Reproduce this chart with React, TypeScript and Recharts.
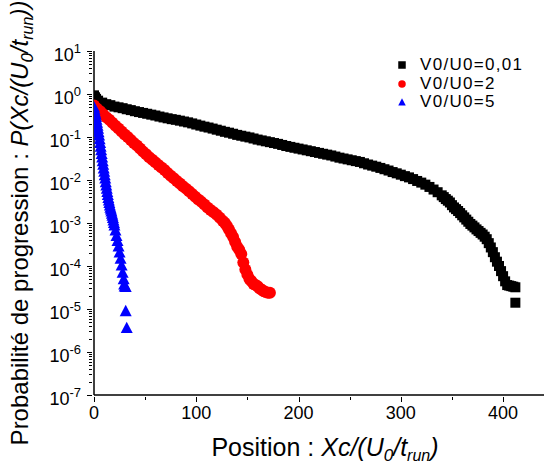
import { ScatterChart, Scatter, XAxis, YAxis, Legend } from "recharts";

const FONT = "'Liberation Sans', Arial, sans-serif";

// x ticks: every 50, labels every 100
const X_TICKS = [0, 50, 100, 150, 200, 250, 300, 350, 400];
const X_LABELED = [0, 100, 200, 300, 400];

// log y axis: decades + minor factors
const Y_DECADES = [1e-7, 1e-6, 1e-5, 1e-4, 1e-3, 1e-2, 1e-1, 1e0, 1e1];
const Y_EXPONENTS = ["-7", "-6", "-5", "-4", "-3", "-2", "-1", "0", "1"];
const Y_MINOR_FACTORS = [2, 3, 4, 5, 6, 7, 8, 9];

// [position, probability]
const V0_001: [number, number][] = [
  [0, 0.93], [1, 0.84], [2, 0.77], [4, 0.7], [8, 0.63], [12, 0.58], [16, 0.55],
  [20, 0.51], [24, 0.49], [28, 0.468], [32, 0.442], [36, 0.422], [40, 0.398],
  [44, 0.38], [48, 0.363], [52, 0.347], [56, 0.331], [60, 0.316], [64, 0.299],
  [68, 0.285], [72, 0.272], [76, 0.26], [80, 0.251], [84, 0.24], [88, 0.229],
  [92, 0.219], [96, 0.207], [100, 0.195], [104, 0.184], [108, 0.174], [112, 0.166],
  [116, 0.157], [120, 0.148], [124, 0.14], [128, 0.132], [132, 0.126], [136, 0.119],
  [140, 0.112], [144, 0.107], [148, 0.102], [152, 0.0977], [156, 0.0923],
  [160, 0.0871], [164, 0.0832], [168, 0.0794], [172, 0.0759], [176, 0.0724],
  [180, 0.0692], [184, 0.0653], [188, 0.0617], [192, 0.0589], [196, 0.0562],
  [200, 0.0537], [204, 0.0513], [208, 0.049], [212, 0.0468], [216, 0.0447],
  [220, 0.0427], [224, 0.0407], [228, 0.0389], [232, 0.0372], [236, 0.0351],
  [240, 0.0331], [244, 0.0316], [248, 0.0302], [252, 0.0288], [256, 0.0275],
  [260, 0.0263], [264, 0.0245], [268, 0.0229], [272, 0.0216], [276, 0.0204],
  [280, 0.0191], [284, 0.0178], [288, 0.0166], [292, 0.0153], [296, 0.0143],
  [300, 0.0133], [304, 0.0123], [308, 0.0115], [312, 0.0105], [316, 0.0095],
  [320, 0.0087], [324, 0.0078], [328, 0.0069], [332, 0.006], [336, 0.0052],
  [340, 0.0044], [342, 0.004], [344, 0.0036], [346, 0.0033], [348, 0.003],
  [350, 0.0026], [352, 0.0023], [354, 0.0021], [356, 0.0019], [358, 0.0017],
  [360, 0.00151], [362, 0.00135], [364, 0.0012], [366, 0.00107], [368, 9.5e-4],
  [370, 8.7e-4], [372, 7.9e-4], [374, 7.1e-4], [376, 6.5e-4], [378, 5.9e-4],
  [380, 5.4e-4], [382, 4.8e-4], [384, 4.2e-4], [386, 3.4e-4], [388, 2.7e-4],
  [390, 2.1e-4], [392, 1.6e-4], [394, 1.26e-4], [396, 1.0e-4], [398, 7.6e-5],
  [400, 5.8e-5], [402, 4.4e-5], [404, 3.6e-5], [406, 3.5e-5], [408, 3.4e-5],
  [410, 3.3e-5], [412, 3.2e-5], [412, 1.4e-5],
];

const V0_2: [number, number][] = [
  [0, 0.537], [3, 0.457], [6, 0.398], [9, 0.339], [12, 0.288], [15, 0.251],
  [18, 0.214], [21, 0.182], [24, 0.158], [27, 0.135], [30, 0.115], [33, 0.1],
  [36, 0.0851], [39, 0.0724], [42, 0.0631], [45, 0.0537], [48, 0.0457], [51, 0.0398],
  [54, 0.0339], [57, 0.0295], [60, 0.0257], [63, 0.0224], [66, 0.0195], [69, 0.017],
  [72, 0.0145], [75, 0.0126], [78, 0.011], [81, 0.0095], [84, 0.0083], [87, 0.0072],
  [90, 0.0063], [93, 0.0055], [96, 0.0047], [99, 0.0041], [102, 0.0035], [105, 0.0031],
  [108, 0.0027], [111, 0.0023], [114, 0.002], [117, 0.00178], [120, 0.00155],
  [123, 0.00132], [126, 0.00112], [128, 0.001], [130, 8.5e-4], [132, 7.1e-4],
  [134, 5.8e-4], [136, 4.7e-4], [138, 3.6e-4], [140, 2.8e-4], [142, 2.4e-4],
  [144, 1.9e-4], [146, 1.2e-4], [148, 8.3e-5], [150, 6.3e-5], [152, 5.0e-5],
  [154, 4.4e-5], [156, 3.8e-5], [158, 3.6e-5], [160, 3.4e-5], [162, 3.0e-5],
  [164, 2.8e-5], [166, 2.6e-5], [168, 2.5e-5], [170, 2.4e-5], [172, 2.4e-5],
];

const V0_5: [number, number][] = [
  [0, 0.5], [0.5, 0.437], [1, 0.38], [1.5, 0.339], [2, 0.3], [2.5, 0.257],
  [3, 0.219], [3.5, 0.186], [4, 0.158], [4.5, 0.132], [5, 0.11], [5.5, 0.09],
  [6, 0.074], [6.5, 0.061], [7, 0.05], [7.5, 0.041], [8, 0.034], [8.5, 0.028],
  [9, 0.023], [9.5, 0.019], [10, 0.0158], [10.5, 0.0132], [11, 0.011], [11.5, 0.0091],
  [12, 0.0076], [12.5, 0.0064], [13, 0.0054], [13.5, 0.0046], [14, 0.0039],
  [14.5, 0.0034], [15, 0.003], [15.5, 0.0026], [16, 0.0023], [16.5, 0.0021],
  [17, 0.0019], [17.5, 0.00168], [18, 0.0015], [18.5, 0.00133], [19, 0.00117],
  [19.5, 0.00102], [20, 8.9e-4], [21, 6.8e-4], [22, 5.1e-4], [23, 3.9e-4],
  [24, 2.9e-4], [25, 2.1e-4], [26, 1.5e-4], [27, 1.05e-4], [28, 7.1e-5],
  [29, 5.0e-5], [29.5, 3.8e-5], [30, 3.4e-5], [31, 3.3e-5], [31, 9.1e-6], [32, 3.7e-6],
];

type Marker = "square" | "circle" | "triangle";

const SERIES: { name: string; data: [number, number][]; color: string; marker: Marker; size: number }[] = [
  { name: "V0/U0=0,01", data: V0_001, color: "#000000", marker: "square", size: 10 },
  { name: "V0/U0=2", data: V0_2, color: "#ff0000", marker: "circle", size: 12 },
  { name: "V0/U0=5", data: V0_5, color: "#0000ff", marker: "triangle", size: 12 },
];

function markerEl(type: Marker, cx: number, cy: number, s: number, fill: string) {
  if (type === "square")
    return <rect x={cx - s / 2} y={cy - s / 2} width={s} height={s} fill={fill} />;
  if (type === "circle") return <circle cx={cx} cy={cy} r={s / 2} fill={fill} />;
  const h = s * 0.9;
  return (
    <polygon
      points={`${cx},${cy - h / 2 - 0.5} ${cx + s / 2},${cy + h / 2} ${cx - s / 2},${cy + h / 2}`}
      fill={fill}
    />
  );
}

const yTicks = [
  ...Y_DECADES,
  ...Y_DECADES.slice(0, -1).flatMap((d) => Y_MINOR_FACTORS.map((f) => f * d)),
];

function YTick(props: any) {
  const { x, y, payload } = props;
  const i = Y_DECADES.indexOf(payload.value);
  const major = i >= 0;
  const yy = Math.round(y) + 0.5;
  return (
    <g>
      <line x1={x - (major ? 5 : 3)} x2={x} y1={yy} y2={yy} stroke="#000" strokeWidth={1} />
      {major && (
        <text x={x - 11} y={y + 10} textAnchor="end" fontSize={18} fontFamily={FONT} fill="#000">
          10
          <tspan dy={-8} fontSize={13}>
            {Y_EXPONENTS[i]}
          </tspan>
        </text>
      )}
    </g>
  );
}

function XTick(props: any) {
  const { x, y, payload } = props;
  const major = X_LABELED.includes(payload.value);
  const xx = Math.round(x) + 0.5;
  return (
    <g>
      <line x1={xx} x2={xx} y1={y} y2={y + (major ? 5 : 3)} stroke="#000" strokeWidth={1} />
      {major && (
        <text x={x} y={y + 22} textAnchor="middle" fontSize={18} fontFamily={FONT} fill="#000">
          {payload.value}
        </text>
      )}
    </g>
  );
}

function LegendBox() {
  return (
    <div style={{ fontFamily: FONT, fontSize: 17, letterSpacing: "1.3px", lineHeight: "18px", color: "#000" }}>
      {SERIES.map((s) => (
        <div key={s.name} style={{ display: "flex", alignItems: "center", height: 18.5 }}>
          <svg width={12} height={12} style={{ marginRight: 12 }}>
            {markerEl(s.marker, 6, 6, 7.5, s.color)}
          </svg>
          <span>{s.name}</span>
        </div>
      ))}
    </div>
  );
}

export default function App() {
  return (
    <div style={{ position: "absolute", left: 0, top: 0, background: "#fff" }}>
      <ScatterChart width={544} height={471} margin={{ top: 51, right: 0, bottom: 0, left: 0 }}>
        <XAxis
          type="number"
          dataKey="x"
          domain={[0, 440]}
          ticks={X_TICKS}
          interval={0}
          height={76}
          tickSize={0}
          tickLine={false}
          tick={<XTick />}
          axisLine={{ stroke: "#000", strokeWidth: 1.5 }}
          allowDataOverflow
        />
        <XAxis
          xAxisId="top"
          orientation="top"
          type="number"
          domain={[0, 440]}
          height={0}
          tick={false}
          tickLine={false}
          axisLine={{ stroke: "#000", strokeWidth: 1.5 }}
        />
        <YAxis
          type="number"
          dataKey="y"
          scale="log"
          domain={[1e-7, 10]}
          ticks={yTicks}
          interval={0}
          width={94}
          tickSize={0}
          tickLine={false}
          tick={<YTick />}
          axisLine={{ stroke: "#000", strokeWidth: 1.5 }}
          allowDataOverflow
        />
        {SERIES.map((s) => (
          <Scatter
            key={s.name}
            name={s.name}
            data={s.data.map(([x, y]) => ({ x, y }))}
            fill={s.color}
            isAnimationActive={false}
            shape={(p: any) => markerEl(s.marker, p.cx, p.cy, s.size, s.color)}
          />
        ))}
        <Legend
          layout="vertical"
          align="center"
          verticalAlign="middle"
          content={<LegendBox />}
          wrapperStyle={{ top: 56, left: 396, width: 150 }}
        />
        <text x={325} y={456} textAnchor="middle" fontSize={25} fontFamily={FONT} fill="#000">
          {"Position : "}
          <tspan fontStyle="italic">Xc/(U</tspan>
          <tspan fontStyle="italic" fontSize={17} dy={5}>0</tspan>
          <tspan fontStyle="italic" dy={-5}>/t</tspan>
          <tspan fontStyle="italic" fontSize={16} dy={5}>run</tspan>
          <tspan fontStyle="italic" dy={-5}>)</tspan>
        </text>
        <text
          transform="translate(28,223) rotate(-90)"
          textAnchor="middle"
          fontSize={24}
          fontFamily={FONT}
          fill="#000"
        >
          {"Probabilité de progression : "}
          <tspan fontStyle="italic">P(Xc/(U</tspan>
          <tspan fontStyle="italic" fontSize={17} dy={5}>0</tspan>
          <tspan fontStyle="italic" dy={-5}>/t</tspan>
          <tspan fontStyle="italic" fontSize={16} dy={5}>run</tspan>
          <tspan fontStyle="italic" dy={-5}>))</tspan>
        </text>
      </ScatterChart>
    </div>
  );
}
